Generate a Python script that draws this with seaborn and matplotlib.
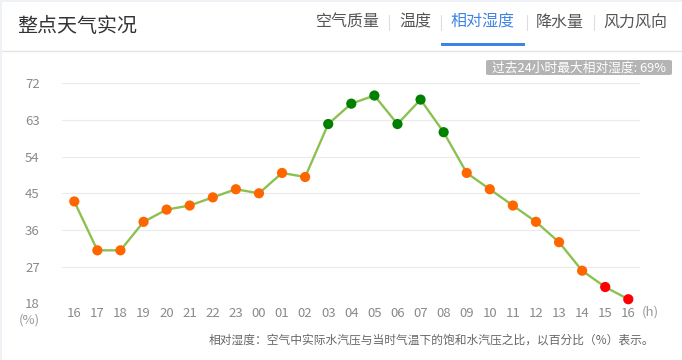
import matplotlib
matplotlib.use("Agg")
import matplotlib.pyplot as plt
from matplotlib.patches import FancyBboxPatch
import seaborn as sns
import pandas as pd

hours = ["16", "17", "18", "19", "20", "21", "22", "23", "00", "01", "02", "03",
         "04", "05", "06", "07", "08", "09", "10", "11", "12", "13", "14", "15", "16"]
humidity = [43, 31, 31, 38, 41, 42, 44, 46, 45, 50, 49, 62,
            67, 69, 62, 68, 60, 50, 46, 42, 38, 33, 26, 22, 19]
y_ticks = [18, 27, 36, 45, 54, 63, 72]
tabs = ["空气质量", "温度", "相对湿度", "降水量", "风力风向"]
title = "整点天气实况"
badge = "过去24小时最大相对湿度: 69%"
note = "相对湿度：空气中实际水汽压与当时气温下的饱和水汽压之比，以百分比（%）表示。"

sns.set_theme(style="white")
plt.rcParams['font.family'] = ['Noto Sans CJK SC', 'DejaVu Sans']

def level(v):
    if v >= 60:
        return "high"
    if v <= 22:
        return "low"
    return "mid"

df = pd.DataFrame({"idx": range(len(hours)), "hour": hours, "rh": humidity})
df["level"] = [level(v) for v in humidity]
palette = {"high": "#008000", "mid": "#ff6600", "low": "#ff0000"}

W, H = 682, 360
fig = plt.figure(figsize=(W / 100, H / 100), dpi=100)
fig.patch.set_facecolor("white")

def fx(px):
    return px / W

def fy(py):
    return 1 - py / H

# faint page border (left and top)
fig.add_artist(plt.Rectangle((0, 0), fx(2), 1, transform=fig.transFigure,
                             color="#eef1f6", lw=0))
fig.add_artist(plt.Rectangle((0, fy(2)), 1, 2 / H, transform=fig.transFigure,
                             color="#eef1f6", lw=0))

# header
fig.text(fx(17), fy(27), title, fontsize=14.4, color="#333333", va="center", ha="left")
tab_x = [316, 399, 451, 536, 603]
sep_x = [389, 441, 527, 594]
for t, x in zip(tabs, tab_x):
    c = "#3f84e5" if t == "相对湿度" else "#555555"
    fig.text(fx(x), fy(22), t, fontsize=11.5, color=c, va="center", ha="left")
for x in sep_x:
    fig.add_artist(plt.Line2D([fx(x), fx(x)], [fy(15), fy(30)], transform=fig.transFigure,
                              color="#dddddd", lw=0.8))
fig.add_artist(plt.Rectangle((fx(441), fy(46)), fx(525) - fx(441), 3 / H,
                             transform=fig.transFigure, color="#3f84e5", lw=0))
fig.add_artist(plt.Line2D([fx(2), 1], [fy(51), fy(51)], transform=fig.transFigure,
                          color="#e5e5e5", lw=1))

# badge
bx0, bx1, by0, by1 = 486, 672, 60, 75
fig.add_artist(FancyBboxPatch((fx(bx0), fy(by1)), fx(bx1) - fx(bx0), fy(by0) - fy(by1),
                              boxstyle="round,pad=0,rounding_size=0.004",
                              transform=fig.transFigure, facecolor="#b4b4b4",
                              edgecolor="none"))
fig.text(fx((bx0 + bx1) / 2), fy((by0 + by1) / 2 + 0.5), badge, fontsize=9.2,
         color="white", ha="center", va="center")

# plot area
left, right, top, bottom = 62, 640, 83.3, 303.3
ax = fig.add_axes([fx(left), fy(bottom), fx(right) - fx(left), fy(top) - fy(bottom)])
ax.set_facecolor("none")

sns.lineplot(data=df, x="idx", y="rh", ax=ax, color="#8cc152", lw=1.7, zorder=2)
sns.scatterplot(data=df, x="idx", y="rh", hue="level", palette=palette, ax=ax,
                s=54, edgecolor="none", legend=False, zorder=3, clip_on=False)

step = (628.3 - 74.3) / 24
ax.set_xlim(-(74.3 - left) / step, 24 + (right - 628.3) / step)
ax.set_ylim(18, 72)
ax.set_yticks(y_ticks)
ax.set_yticklabels([str(v) for v in y_ticks])
ax.set_xticks(df["idx"])
ax.set_xticklabels(hours)
for v in y_ticks:
    ax.axhline(v, color="#ebebeb" if v != 18 else "#e3e3e3", lw=0.8, zorder=0)
for s in ax.spines.values():
    s.set_visible(False)
ax.tick_params(axis="y", length=0, pad=16, labelsize=9.5, labelcolor="#8a8a8a")
ax.tick_params(axis="x", length=0, pad=3, labelsize=9.5, labelcolor="#8a8a8a")
ax.set_xlabel("")
ax.set_ylabel("")

fig.text(fx(29), fy(320), "(%)", fontsize=9.5, color="#9a9a9a", ha="center", va="center")
fig.text(fx(650), fy(312.5), "(h)", fontsize=9.5, color="#9a9a9a", ha="center", va="center")
fig.text(fx(654), fy(340), note, fontsize=8.47, color="#666666", ha="right", va="center")

fig.savefig("out.png", dpi=100)
